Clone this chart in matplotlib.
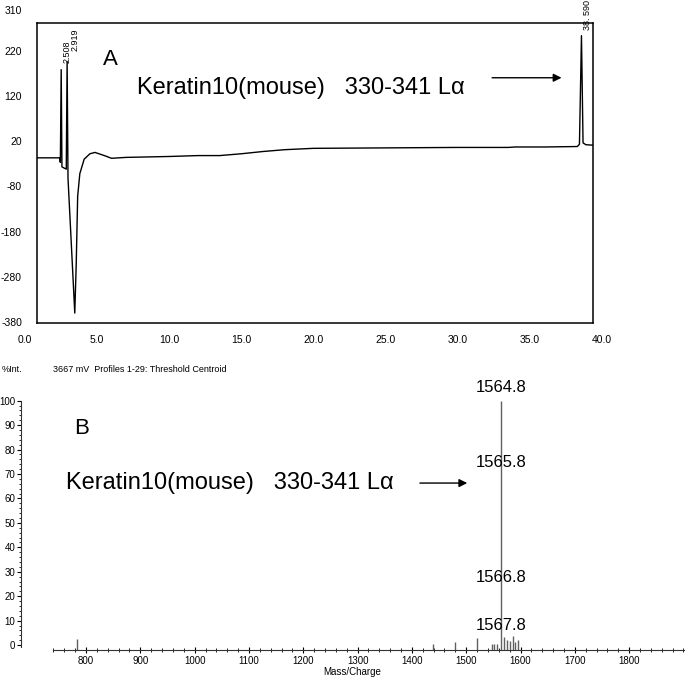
import numpy as np
import matplotlib.pyplot as plt

plt.rcParams['font.family'] = ['Liberation Sans', 'DejaVu Sans']

# --- panel A: chromatogram (time in min, signal in mV) ---
trace_t = [0.83, 2.40, 2.45, 2.508, 2.56, 2.86, 2.919, 2.98, 3.17, 3.45, 3.55, 3.65,
           3.8, 4.1, 4.5, 4.85, 5.5, 6.0, 7.0, 10.0, 12.0, 13.5, 15.0, 16.5, 18.0,
           20.0, 25.0, 30.0, 33.5, 34.0, 36.0, 38.3, 38.45, 38.59, 38.7, 38.9, 39.39]
trace_v = [-15, -15, -25, 180, -35, -40, 198, -60, -180, -358, -250, -100,
           -50, -18, -6, -3, -10, -16, -14, -12, -10, -10, -6, -1, 3,
           6, 7, 8, 8, 9, 9, 10, 15, 255, 18, 14, 13]
peak_times = [2.508, 2.919, 38.590]
peak_label_t = [2.92, 3.47, 39.02]
peak_label_v = [219, 247, 300]
a_yticks = [310, 220, 120, 20, -80, -180, -280, -380]
a_xticks = [0.0, 5.0, 10.0, 15.0, 20.0, 25.0, 30.0, 35.0, 40.0]

# --- panel B: mass spectrum ---
mz = [783, 1439, 1480, 1520, 1547, 1552, 1557, 1564.8, 1570, 1575, 1581, 1586, 1590, 1596]
intensity = [2.5, 0.3, 1.4, 2.8, 0.5, 0.3, 0.5, 100, 3.4, 2.0, 1.5, 3.7, 1.2, 2.0]
label_mz = [1564.8, 1564.8, 1564.8, 1564.8]
label_text = ['1564.8', '1565.8', '1566.8', '1567.8']
label_y = [105.6, 74.9, 27.8, 8.2]

W, H = 688, 679
fig = plt.figure(figsize=(W / 100, H / 100), dpi=100)


def box(l, t, r, b):
    return [l / W, 1 - b / H, (r - l) / W, (b - t) / H]


ax1 = fig.add_axes(box(37, 23, 593, 323))
ax1.plot(trace_t, trace_v, color='black', lw=1)
ax1.set_xlim(0.83, 39.39)
ax1.set_ylim(-380, 283)
ax1.set_xticks([])
ax1.set_yticks([])
for s in ax1.spines.values():
    s.set_linewidth(1.1)
for v in a_yticks:
    ax1.text(-0.027, v, str(v), transform=ax1.get_yaxis_transform(),
             ha='right', va='center', fontsize=7.5, clip_on=False)
for t in a_xticks:
    ax1.text(t, -0.057, f"{t:.1f}", transform=ax1.get_xaxis_transform(),
             ha='center', va='center', fontsize=7.5, clip_on=False)
for t, lt, v in zip(peak_times, peak_label_t, peak_label_v):
    ax1.text(lt, v, f"{t:.3f}".replace('38.590', '38. 590'), rotation=90,
             ha='center', va='center', fontsize=6.5, clip_on=False)
ax1.text(5.9, 202, 'A', fontsize=16, ha='center', va='center')
ax1.text(7.77, 140, 'Keratin10(mouse)   330-341 L\u03b1', fontsize=17,
         ha='left', va='center')
ax1.annotate('', xy=(37.4, 162), xytext=(32.2, 162),
             arrowprops=dict(arrowstyle='-|>', color='black', lw=1, mutation_scale=12))

ax2 = fig.add_axes(box(20.7, 395.8, 684, 650))
ax2.vlines(mz, -2, intensity, color='#606060', lw=1)
ax2.set_xlim(679.7, 1901)
ax2.set_ylim(-2, 102)
ax2.spines['top'].set_visible(False)
ax2.spines['right'].set_visible(False)
ax2.spines['bottom'].set_bounds(739, 1901)
ax2.spines['left'].set_bounds(-0.8, 100)
ax2.spines['bottom'].set_color('#333333')
ax2.spines['left'].set_color('#333333')
ax2.set_xticks(np.arange(800, 1801, 100))
ax2.set_xticks(np.arange(740, 1901, 20), minor=True)
ax2.set_yticks(np.arange(0, 101, 10))
ax2.set_yticks(np.arange(0, 101, 2), minor=True)
ax2.tick_params(axis='x', which='major', direction='inout', length=4, labelsize=7, pad=2)
ax2.tick_params(axis='x', which='minor', direction='inout', length=3)
ax2.tick_params(axis='y', which='major', direction='out', length=3, labelsize=7, pad=1)
ax2.tick_params(axis='y', which='minor', direction='out', length=1.5)
ax2.set_xlabel('Mass/Charge', fontsize=7, labelpad=1)
for x, s, y in zip(label_mz, label_text, label_y):
    ax2.text(x, y, s, fontsize=12, ha='center', va='center', clip_on=False)
ax2.text(792.6, 88.8, 'B', fontsize=16, ha='center', va='center')
ax2.text(763, 66.3, 'Keratin10(mouse)   330-341 L\u03b1', fontsize=17,
         ha='left', va='center')
ax2.annotate('', xy=(1507, 66.3), xytext=(1409.6, 66.3),
             arrowprops=dict(arrowstyle='-|>', color='black', lw=1, mutation_scale=12))

fig.text(2 / W, 1 - 370 / H, '%Int.', fontsize=6.5, va='center')
fig.text(53 / W, 1 - 370 / H, '3667 mV  Profiles 1-29: Threshold Centroid',
         fontsize=6.5, va='center')

fig.savefig('out.png', dpi=100)
